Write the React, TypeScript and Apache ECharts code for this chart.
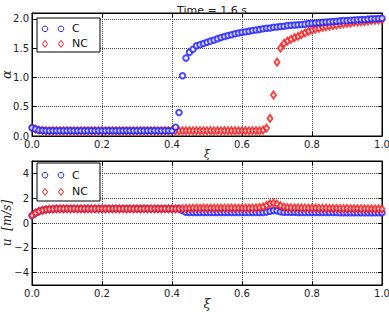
import React, { useEffect, useRef } from "react";
import * as echarts from "echarts";

const xi = [
  0.0, 0.01, 0.02, 0.03, 0.04, 0.05, 0.06, 0.07, 0.08, 0.09,
  0.1, 0.11, 0.12, 0.13, 0.14, 0.15, 0.16, 0.17, 0.18, 0.19,
  0.2, 0.21, 0.22, 0.23, 0.24, 0.25, 0.26, 0.27, 0.28, 0.29,
  0.3, 0.31, 0.32, 0.33, 0.34, 0.35, 0.36, 0.37, 0.38, 0.39,
  0.4, 0.41, 0.42, 0.43, 0.44, 0.45, 0.46, 0.47, 0.48, 0.49,
  0.5, 0.51, 0.52, 0.53, 0.54, 0.55, 0.56, 0.57, 0.58, 0.59,
  0.6, 0.61, 0.62, 0.63, 0.64, 0.65, 0.66, 0.67, 0.68, 0.69,
  0.7, 0.71, 0.72, 0.73, 0.74, 0.75, 0.76, 0.77, 0.78, 0.79,
  0.8, 0.81, 0.82, 0.83, 0.84, 0.85, 0.86, 0.87, 0.88, 0.89,
  0.9, 0.91, 0.92, 0.93, 0.94, 0.95, 0.96, 0.97, 0.98, 0.99, 1.0,
];

const alphaC = [
  0.14, 0.12, 0.1, 0.095,
  0.09, 0.09, 0.09, 0.09, 0.09, 0.09, 0.09, 0.09, 0.09, 0.09,
  0.09, 0.09, 0.09, 0.09, 0.09, 0.09, 0.09, 0.09, 0.09, 0.09,
  0.09, 0.09, 0.09, 0.09, 0.09, 0.09, 0.09, 0.09, 0.09, 0.09,
  0.09, 0.09, 0.09, 0.09, 0.09, 0.09, 0.09,
  0.15, 0.4, 1.03, 1.33, 1.43, 1.48,
  1.54, 1.56, 1.58, 1.6, 1.62, 1.64, 1.66, 1.68, 1.7, 1.715,
  1.73, 1.745, 1.76, 1.77, 1.78, 1.79, 1.8, 1.81, 1.82, 1.83,
  1.84, 1.845, 1.855, 1.86, 1.87, 1.875, 1.885, 1.89, 1.895, 1.9,
  1.905, 1.91, 1.92, 1.925, 1.93, 1.935, 1.94, 1.945, 1.95, 1.955,
  1.96, 1.965, 1.97, 1.97, 1.975, 1.98, 1.985, 1.99, 1.99, 1.995,
  2.0, 2.0, 2.005, 2.01,
];

const alphaNC = [
  0.14, 0.12, 0.1, 0.095,
  0.09, 0.09, 0.09, 0.09, 0.09, 0.09, 0.09, 0.09, 0.09, 0.09,
  0.09, 0.09, 0.09, 0.09, 0.09, 0.09, 0.09, 0.09, 0.09, 0.09,
  0.09, 0.09, 0.09, 0.09, 0.09, 0.09, 0.09, 0.09, 0.09, 0.09,
  0.09, 0.09, 0.09, 0.09, 0.09, 0.09, 0.09, 0.09, 0.09, 0.09,
  0.09, 0.09, 0.09, 0.09, 0.09, 0.09, 0.09, 0.09, 0.09, 0.09,
  0.09, 0.09, 0.09, 0.09, 0.09, 0.09, 0.09, 0.09, 0.09, 0.09,
  0.09, 0.09,
  0.1, 0.135, 0.3, 0.7, 1.26, 1.5,
  1.58, 1.62, 1.65, 1.68, 1.7, 1.73, 1.76, 1.785, 1.81, 1.825,
  1.84, 1.855, 1.865, 1.875, 1.885, 1.895, 1.905, 1.915, 1.925, 1.93,
  1.94, 1.945, 1.95, 1.955, 1.96, 1.97, 1.975, 1.98, 1.985,
];

const uC = [
  0.6, 0.8, 0.95, 1.03, 1.08, 1.11, 1.13, 1.14,
  1.15, 1.15, 1.15, 1.15, 1.15, 1.15, 1.15, 1.15, 1.15, 1.15,
  1.15, 1.15, 1.15, 1.15, 1.15, 1.15, 1.15, 1.15, 1.15, 1.15,
  1.15, 1.15, 1.15, 1.15, 1.15, 1.15, 1.15, 1.15, 1.15, 1.15,
  1.15, 1.15, 1.15, 1.15, 1.15,
  1.0, 0.87,
  0.85, 0.85, 0.85, 0.85, 0.85, 0.85, 0.85, 0.85, 0.85, 0.85, 0.85,
  0.85, 0.85, 0.85, 0.85, 0.85, 0.85, 0.85, 0.85, 0.85, 0.85, 0.85,
  0.88, 0.95, 1.0, 0.98, 0.9,
  0.86, 0.86, 0.86, 0.86, 0.85, 0.85, 0.85, 0.85, 0.85, 0.85,
  0.84, 0.84, 0.84, 0.84, 0.84, 0.84, 0.83, 0.83, 0.83, 0.83,
  0.83, 0.83, 0.83, 0.82, 0.82, 0.82, 0.82, 0.82, 0.82,
];

const uNC = [
  0.6, 0.8, 0.95, 1.03, 1.08, 1.11, 1.13, 1.14,
  1.15, 1.15, 1.15, 1.15, 1.15, 1.15, 1.15, 1.15, 1.15, 1.15,
  1.15, 1.15, 1.15, 1.15, 1.15, 1.15, 1.15, 1.15, 1.15, 1.15,
  1.15, 1.15, 1.15, 1.15, 1.15, 1.15, 1.15, 1.15, 1.15, 1.15,
  1.15, 1.15, 1.15, 1.15, 1.15,
  1.17, 1.18, 1.19, 1.2, 1.2, 1.2, 1.2, 1.2, 1.2, 1.2, 1.2, 1.2,
  1.2, 1.2, 1.2, 1.2, 1.2, 1.2, 1.2, 1.2, 1.21, 1.22, 1.25,
  1.3, 1.42, 1.55, 1.6, 1.52, 1.38, 1.28,
  1.24, 1.23, 1.22, 1.22, 1.21, 1.21, 1.2, 1.2, 1.2, 1.19,
  1.19, 1.19, 1.18, 1.18, 1.18, 1.17, 1.17, 1.17, 1.16, 1.16,
  1.16, 1.15, 1.15, 1.15, 1.14, 1.14, 1.14, 1.13,
];

const uTicks = [-4, -2, 0, 2, 4];
const seriesNames = ["C", "NC"];
const titleText = "Time = 1.6 s";

const BLUE = "#1f1fff";
const RED = "#f01818";
const FONT = "DejaVu Sans";

function pairs(ys: number[]) {
  const n = Math.min(xi.length, ys.length);
  const out: number[][] = [];
  for (let i = 0; i < n; i++) out.push([xi[i], ys[i]]);
  return out;
}

function legendGraphic(top: number, h: number) {
  const r1 = top + h * 0.32;
  const r2 = top + h * 0.76;
  const diamond = (cx: number, cy: number) => ({
    type: "polygon",
    z: 101,
    shape: {
      points: [
        [cx, cy - 3.5],
        [cx + 2.5, cy],
        [cx, cy + 3.5],
        [cx - 2.5, cy],
      ],
    },
    style: { fill: "none", stroke: RED, lineWidth: 1 },
  });
  return [
    {
      type: "rect",
      z: 100,
      shape: { x: 37, y: top, width: 63, height: h },
      style: { fill: "#fff", stroke: "#000", lineWidth: 1 },
    },
    { type: "circle", z: 101, shape: { cx: 45, cy: r1, r: 2.8 }, style: { fill: "none", stroke: BLUE, lineWidth: 1 } },
    { type: "circle", z: 101, shape: { cx: 61, cy: r1, r: 2.8 }, style: { fill: "none", stroke: BLUE, lineWidth: 1 } },
    diamond(45, r2),
    diamond(61, r2),
    {
      type: "text", z: 101, x: 72, y: r1,
      style: { text: seriesNames[0], fill: "#111", font: `11px "${FONT}"`, verticalAlign: "middle" },
    },
    {
      type: "text", z: 101, x: 72, y: r2,
      style: { text: seriesNames[1], fill: "#111", font: `11px "${FONT}"`, verticalAlign: "middle" },
    },
  ];
}

export default function App() {
  const ref = useRef<HTMLDivElement>(null);
  useEffect(() => {
    if (!ref.current) return;
    const chart = echarts.init(ref.current, undefined, { renderer: "svg" });
    const axisLabel = { color: "#222", fontSize: 10, fontFamily: FONT, hideOverlap: false };
    const splitLine = { show: true, lineStyle: { type: "dotted" as const, color: "#444", width: 1 } };
    const axisLine = { show: true, onZero: false, lineStyle: { color: "#000", width: 1 } };
    const axisTick = { show: true, inside: true, length: 4, lineStyle: { color: "#000" } };
    const mkX = (gi: number, nameSize: number, nameGap: number) => ({
      type: "value",
      gridIndex: gi,
      min: 0,
      max: 1,
      interval: 0.2,
      name: "ξ",
      nameLocation: "middle",
      nameGap,
      nameMoveOverlap: false,
      nameTextStyle: { fontSize: nameSize, fontStyle: "italic", fontFamily: "DejaVu Serif", color: "#222" },
      axisLine,
      axisTick,
      splitLine,
      axisLabel: { ...axisLabel, margin: 3, formatter: (v: number) => v.toFixed(1) },
    });
    const mkXTop = (gi: number) => ({
      type: "value", gridIndex: gi, min: 0, max: 1, interval: 0.2, position: "top",
      axisLine, axisTick, splitLine: { show: false }, axisLabel: { show: false },
    });
    const option: any = {
      animation: false,
      backgroundColor: "#fff",
      title: {
        text: titleText,
        left: 207,
        top: 0,
        textAlign: "center",
        textStyle: { fontSize: 11, fontWeight: "normal", color: "#222", fontFamily: FONT },
      },
      grid: [
        { left: 32, right: 7, top: 13, height: 123, show: true, borderColor: "#000", borderWidth: 1, outerBoundsMode: "none", containLabel: false },
        { left: 32, right: 7, top: 161, height: 124, show: true, borderColor: "#000", borderWidth: 1, outerBoundsMode: "none", containLabel: false },
      ],
      xAxis: [mkX(0, 11, 13), mkX(1, 13, 12), mkXTop(0), mkXTop(1)],
      yAxis: [
        {
          type: "value", gridIndex: 0, min: 0, max: 2.1, interval: 0.5,
          name: "α", nameLocation: "middle", nameGap: 19, nameMoveOverlap: false,
          nameTextStyle: { fontSize: 13, fontStyle: "italic", fontFamily: "DejaVu Serif", color: "#222" },
          axisLine, axisTick, splitLine,
          axisLabel: { ...axisLabel, margin: 3, formatter: (v: number) => v.toFixed(1) },
        },
        {
          type: "value", gridIndex: 1, min: -5, max: 5,
          name: "u  [m/s]", nameLocation: "middle", nameGap: 19, nameMoveOverlap: false,
          nameTextStyle: { fontSize: 12, fontStyle: "italic", fontFamily: "DejaVu Serif", color: "#222" },
          axisLine,
          axisTick: { ...axisTick, customValues: uTicks },
          splitLine: { show: false },
          axisLabel: {
            ...axisLabel, margin: 3, customValues: uTicks,
            formatter: (v: number) => (v < 0 ? "\u2212" + Math.abs(v) : String(v)),
          },
        },
        {
          type: "value", gridIndex: 0, min: 0, max: 2.1, interval: 0.5, position: "right",
          axisLine, axisTick, splitLine: { show: false }, axisLabel: { show: false },
        },
        {
          type: "value", gridIndex: 1, min: -5, max: 5, position: "right",
          axisLine, axisTick: { ...axisTick, customValues: uTicks }, splitLine: { show: false },
          axisLabel: { show: false, customValues: uTicks },
        },
      ],
      series: [
        {
          name: seriesNames[1], type: "scatter", xAxisIndex: 0, yAxisIndex: 0, data: pairs(alphaNC),
          symbol: "emptyDiamond", symbolSize: [5, 7],
          itemStyle: { color: RED, borderColor: RED, borderWidth: 1 },
        },
        {
          name: seriesNames[0], type: "scatter", xAxisIndex: 0, yAxisIndex: 0, data: pairs(alphaC),
          symbol: "emptyCircle", symbolSize: 5.5,
          itemStyle: { color: BLUE, borderColor: BLUE, borderWidth: 1 },
        },
        {
          name: seriesNames[0], type: "scatter", xAxisIndex: 1, yAxisIndex: 1, data: pairs(uC),
          symbol: "emptyCircle", symbolSize: 5.5,
          itemStyle: { color: BLUE, borderColor: BLUE, borderWidth: 1 },
          markLine: {
            silent: true, symbol: "none", label: { show: false }, z: 0,
            lineStyle: { type: "dotted", color: "#444", width: 1 },
            data: uTicks.map((v) => ({ yAxis: v })),
          },
        },
        {
          name: seriesNames[1], type: "scatter", xAxisIndex: 1, yAxisIndex: 1, data: pairs(uNC),
          symbol: "emptyDiamond", symbolSize: [5, 7],
          itemStyle: { color: RED, borderColor: RED, borderWidth: 1 },
        },
      ],
      graphic: [...legendGraphic(18, 34), ...legendGraphic(163, 38)],
    };
    chart.setOption(option);
    return () => chart.dispose();
  }, []);
  return <div ref={ref} style={{ width: 389, height: 312, position: "absolute", left: 0, top: 0 }} />;
}
